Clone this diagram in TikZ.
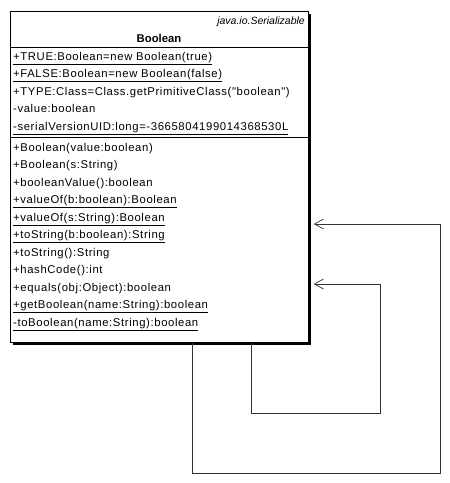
\documentclass[tikz,border=0pt]{standalone}
\usepackage{fontspec}
\setmainfont{Liberation Sans}
\newfontfamily\memfont[LetterSpace=5.5]{Liberation Sans}
\usetikzlibrary{arrows.meta}
\begin{document}
\begin{tikzpicture}[x=1pt,y=-1pt,
  mem/.style={anchor=base west,inner sep=0pt,font=\memfont\fontsize{11.3}{13}\selectfont},
  sep/.style={line width=0.8pt},
  dep/.style={draw=black!80,line width=0.8pt,-{Straight Barb[length=9pt,width=10pt,line width=0.7pt]}}]
\useasboundingbox (0,0) rectangle (450,483);
% shadow and box
\fill[black] (13,14) rectangle (311,345);
\node[draw,fill=white,line width=0.8pt,minimum width=298pt,minimum height=331pt,inner sep=0pt,anchor=north west] (cls) at (10,11) {};
\draw[sep] (10,47) -- (308,47);
\draw[sep] (10,137) -- (308,137);
\node[anchor=base east,inner sep=0pt,font=\fontsize{10.5}{12}\selectfont\itshape] (iface) at (305,24) {java.io.Serializable};
\node[anchor=base,inner sep=0pt,font=\fontsize{11.3}{13}\selectfont\bfseries] (title) at (159,42) {Boolean};
% attributes
\node[mem] (a1) at (13,60) {\underline{+TRUE:Boolean=new Boolean(true)}};
\node[mem] (a2) at (13,77.5) {\underline{+FALSE:Boolean=new Boolean(false)}};
\node[mem] (a3) at (13,95) {+TYPE:Class=Class.getPrimitiveClass("boolean")};
\node[mem] (a4) at (13,112.5) {-value:boolean};
\node[mem] (a5) at (13,130) {\underline{-serialVersionUID:long=-3665804199014368530L}};
% operations
\node[mem] (m1) at (13,151) {+Boolean(value:boolean)};
\node[mem] (m2) at (13,168.5) {+Boolean(s:String)};
\node[mem] (m3) at (13,186) {+booleanValue():boolean};
\node[mem] (m4) at (13,203.5) {\underline{+valueOf(b:boolean):Boolean}};
\node[mem] (m5) at (13,221) {\underline{+valueOf(s:String):Boolean}};
\node[mem] (m6) at (13,238.5) {\underline{+toString(b:boolean):String}};
\node[mem] (m7) at (13,256) {+toString():String};
\node[mem] (m8) at (13,273.5) {+hashCode():int};
\node[mem] (m9) at (13,291) {+equals(obj:Object):boolean};
\node[mem] (m10) at (13,308.5) {\underline{+getBoolean(name:String):boolean}};
\node[mem] (m11) at (13,326) {\underline{-toBoolean(name:String):boolean}};
% self dependencies
\coordinate (o1) at (192,473);
\coordinate (o2) at (440,224);
\coordinate (i1) at (251,413);
\coordinate (i2) at (380,284);
\draw[dep] (cls.south -| o1) -- (o1) -| (o2) -- ([xshift=5pt]cls.east |- o2);
\draw[dep] (cls.south -| i1) -- (i1) -| (i2) -- ([xshift=5pt]cls.east |- i2);
\end{tikzpicture}
\end{document}
